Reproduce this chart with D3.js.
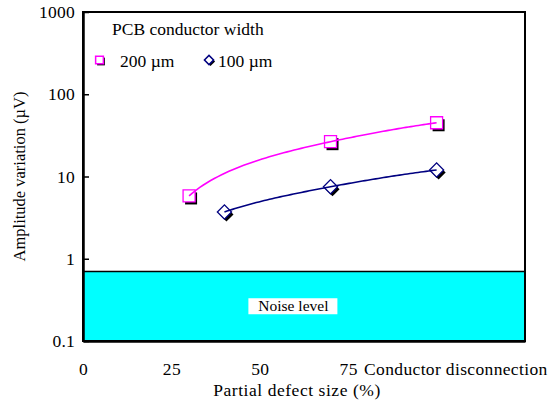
<!DOCTYPE html>
<html>
<head>
<meta charset="utf-8">
<script src="https://cdn.jsdelivr.net/npm/d3@7"></script>
<style>
  body { margin: 0; background: #fff; }
</style>
</head>
<body>
<div id="chart"></div>
<script>
// data
const defectSize = [30, 70, 100];
const width200 = [5.8, 26.5, 45];
const defectSize100 = [40, 70, 100];
const width100 = [3.7, 7.5, 12];
const noiseLevel = 0.7;
const yTicks = [0.1, 1, 10, 100, 1000];
const xTicks = [0, 25, 50, 75, 100];
const xTickLabels = ["0", "25", "50", "75", "Conductor disconnection"];

const FONT = "'Liberation Serif', 'Times New Roman', 'DejaVu Serif', serif";

const totalW = 550, totalH = 405;
const margin = { top: 12, right: 25, bottom: 64, left: 83 };
const width = totalW - margin.left - margin.right;
const height = totalH - margin.top - margin.bottom;

const svg = d3.select("#chart")
  .append("svg")
  .attr("width", totalW)
  .attr("height", totalH)
  .style("font-family", FONT);

const chart = svg.append("g")
  .attr("transform", `translate(${margin.left},${margin.top})`);

const x = d3.scaleLinear().domain([0, 125]).range([0, width]);
const y = d3.scaleLog().domain([0.1, 1000]).range([height, 0]);

// noise band
chart.append("rect")
  .attr("x", 0)
  .attr("y", y(noiseLevel))
  .attr("width", width)
  .attr("height", y(0.1) - y(noiseLevel))
  .attr("fill", "#00FFFF")
  .attr("stroke", "#000")
  .attr("stroke-width", 1.5);

const nlX = x(59.5), nlY = y(Math.sqrt(noiseLevel * 0.1));
chart.append("rect")
  .attr("x", nlX - 45)
  .attr("y", nlY - 8)
  .attr("width", 89)
  .attr("height", 16)
  .attr("fill", "#fff");
chart.append("text")
  .attr("x", nlX)
  .attr("y", nlY + 5)
  .attr("text-anchor", "middle")
  .style("font-family", FONT)
  .style("font-size", "15.5px")
  .text("Noise level");

// frame
chart.append("rect")
  .attr("width", width)
  .attr("height", height)
  .attr("fill", "none")
  .attr("stroke", "#000")
  .attr("stroke-width", 2);

// y axis
const yAxis = chart.append("g")
  .call(d3.axisLeft(y)
    .tickValues(yTicks)
    .tickFormat(d => String(d))
    .tickSizeInner(-6)
    .tickSizeOuter(0)
    .tickPadding(8));
yAxis.select(".domain").attr("stroke-width", 2.5);
yAxis.selectAll(".tick line").attr("stroke-width", 1.5);
yAxis.selectAll("text")
  .style("font-family", FONT)
  .style("font-size", "17.5px")
  .style("letter-spacing", "0.25px");

// x axis
const xAxis = chart.append("g")
  .attr("transform", `translate(0,${height})`)
  .call(d3.axisBottom(x)
    .tickValues(xTicks)
    .tickFormat((d, i) => xTickLabels[i])
    .tickSize(0)
    .tickPadding(22));
xAxis.select(".domain").attr("stroke-width", 2.5);
xAxis.selectAll("text")
  .style("font-family", FONT)
  .style("font-size", "17.5px")
  .style("letter-spacing", "0.35px")
  .filter(d => d === 100)
  .attr("text-anchor", "start")
  .attr("x", -73);

// axis titles
svg.append("text")
  .attr("x", 297)
  .attr("y", 396)
  .attr("text-anchor", "middle")
  .style("font-family", FONT)
  .style("font-size", "17.5px")
  .style("letter-spacing", "0.55px")
  .text("Partial defect size (%)");

svg.append("text")
  .attr("transform", `translate(25,${margin.top + height / 2}) rotate(-90)`)
  .attr("text-anchor", "middle")
  .style("font-family", FONT)
  .style("font-size", "16.5px")
  .text("Amplitude variation (\u00B5V)");

// series
const series = [
  { name: "200 \u00B5m", xs: defectSize, ys: width200, color: "#FF00FF", shape: d3.symbolSquare, size: 144, rot: 0 },
  { name: "100 \u00B5m", xs: defectSize100, ys: width100, color: "#000080", shape: d3.symbolSquare, size: 100, rot: 45 }
];

// smoothing is done in linear data space (like the spreadsheet did),
// then mapped through the log scale
function smoothPath(xs, ys, steps = 40) {
  const n = xs.length;
  const tan = i => {
    const a = Math.max(0, i - 1), b = Math.min(n - 1, i + 1);
    return [(xs[b] - xs[a]) / (b - a), (ys[b] - ys[a]) / (b - a)];
  };
  const out = [[xs[0], ys[0]]];
  for (let i = 0; i < n - 1; i++) {
    const m0 = tan(i), m1 = tan(i + 1);
    for (let k = 1; k <= steps; k++) {
      const t = k / steps, t2 = t * t, t3 = t2 * t;
      const h00 = 2 * t3 - 3 * t2 + 1, h10 = t3 - 2 * t2 + t;
      const h01 = -2 * t3 + 3 * t2, h11 = t3 - t2;
      out.push([
        h00 * xs[i] + h10 * m0[0] + h01 * xs[i + 1] + h11 * m1[0],
        h00 * ys[i] + h10 * m0[1] + h01 * ys[i + 1] + h11 * m1[1]
      ]);
    }
  }
  return out;
}

const lineGen = d3.line()
  .x(d => x(d[0]))
  .y(d => y(d[1]));

series.forEach(s => {
  const pts = s.xs.map((v, i) => [v, s.ys[i]]);
  const sym = d3.symbol().type(s.shape).size(s.size);

  chart.selectAll(null)
    .data(pts)
    .enter()
    .append("path")
    .attr("d", sym)
    .attr("transform", d => `translate(${x(d[0]) + 2},${y(d[1]) + 2.5}) rotate(${s.rot})`)
    .attr("fill", "#000");

  chart.selectAll(null)
    .data(pts)
    .enter()
    .append("path")
    .attr("d", sym)
    .attr("transform", d => `translate(${x(d[0])},${y(d[1])}) rotate(${s.rot})`)
    .attr("fill", "#fff")
    .attr("stroke", s.color)
    .attr("stroke-width", 1.3);

  chart.append("path")
    .datum(smoothPath(s.xs, s.ys))
    .attr("fill", "none")
    .attr("stroke", s.color)
    .attr("stroke-width", 1.6)
    .attr("d", lineGen);
});

// legend
const legend = svg.append("g");
legend.append("text")
  .attr("x", 112)
  .attr("y", 35)
  .style("font-family", FONT)
  .style("font-size", "17.5px")
  .text("PCB conductor width");

const legendItems = [
  { s: series[0], mx: 99.5, tx: 120 },
  { s: series[1], mx: 209, tx: 218 }
];
legendItems.forEach(it => {
  const sym = d3.symbol().type(it.s.shape).size(it.s.rot ? 42 : 60);
  legend.append("path")
    .attr("d", sym)
    .attr("transform", `translate(${it.mx + 1.5},${61.5}) rotate(${it.s.rot})`)
    .attr("fill", "#000");
  legend.append("path")
    .attr("d", sym)
    .attr("transform", `translate(${it.mx},${60}) rotate(${it.s.rot})`)
    .attr("fill", "#fff")
    .attr("stroke", it.s.color)
    .attr("stroke-width", 1.5);
  legend.append("text")
    .attr("x", it.tx)
    .attr("y", 67)
    .style("font-family", FONT)
    .style("font-size", "17.5px")
    .text(it.s.name);
});
</script>
</body>
</html>
